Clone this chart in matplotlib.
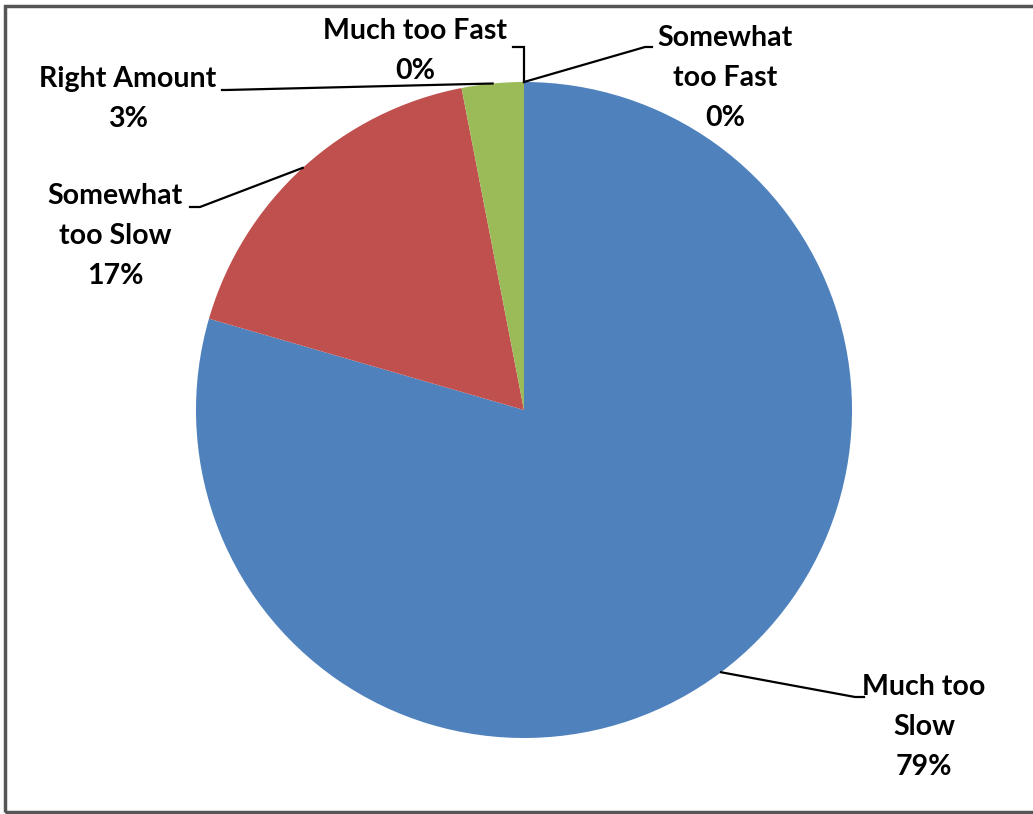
import matplotlib.pyplot as plt
import numpy as np

# survey answers, percent of respondents
categories = ['Much too Slow', 'Somewhat too Slow', 'Right Amount',
              'Much too Fast', 'Somewhat too Fast']
wrapped = ['Much too\nSlow', 'Somewhat\ntoo Slow', 'Right Amount',
           'Much too Fast', 'Somewhat\ntoo Fast']
values = [79.49, 17.46, 3.05, 0.0, 0.0]
colors = ['#4F81BD', '#C0504D', '#9BBB59', '#8064A2', '#4BACC6']

W, H = 1033, 814
cx, cy, R = 524, 410, 328   # pie centre/radius in image pixels (y down)

# label block centre, leader elbow and leader end (image pixels, y down)
label_pos = [(924, 727), (115, 236), (128, 99), (415, 51), (725, 78)]
elbows = [(855, 697), (200, 207), (226, 90), (524, 47), (645, 47)]
ends = [(864, 697), (190, 207), (222, 90), (513, 47), (652, 47)]


def fy(y):
    return H - y


fig = plt.figure(figsize=(W / 100, H / 100), dpi=100)
ax = fig.add_axes([0, 0, 1, 1])

wedges, _ = ax.pie(values, colors=colors, startangle=90, counterclock=False,
                   radius=R, center=(cx, fy(cy)),
                   wedgeprops=dict(linewidth=0))
ax.set_xlim(0, W)
ax.set_ylim(0, H)
ax.set_aspect('equal')
ax.axis('off')

for w, v, name, (lx, ly), (ex, ey), (tx, ty) in zip(wedges, values, wrapped,
                                                   label_pos, elbows, ends):
    mid = np.deg2rad((w.theta1 + w.theta2) / 2)
    ax_, ay_ = cx + R * np.cos(mid), fy(cy) + R * np.sin(mid)
    ax.plot([ax_, ex, tx], [ay_, fy(ey), fy(ty)], color='black', lw=1.6,
            solid_joinstyle='miter')
    ax.text(lx, fy(ly), f"{name}\n{round(v)}%", ha='center', va='center',
            fontsize=20.5, fontweight='bold', family='Lato', linespacing=1.65,
            color='black')

# chart-area border (right side runs off the picture)
fig.patches.append(plt.Rectangle((5 / W, 2 / H), 1040 / W, 806 / H,
                                 transform=fig.transFigure, fill=False,
                                 edgecolor='#555555', linewidth=2.5))

fig.savefig('out.png', dpi=100)
